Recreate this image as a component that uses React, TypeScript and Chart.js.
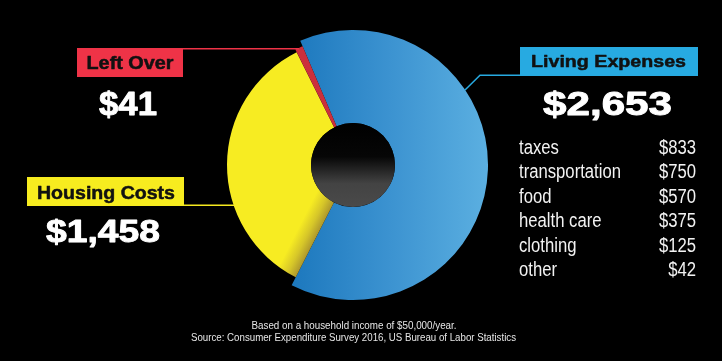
import React, { useEffect, useRef } from 'react';
import { Chart, registerables } from 'chart.js';

Chart.register(...registerables);

// ---- data ----
const sliceLabels = ['Living Expenses', 'Housing Costs', 'Left Over'];
const sliceValues = [2653, 1458, 41];
const livingItems = ['taxes', 'transportation', 'food', 'health care', 'clothing', 'other'];
const livingValues = [833, 750, 570, 375, 125, 42];
const footnotes = [
  'Based on a household income of $50,000/year.',
  'Source: Consumer Expenditure Survey 2016, US Bureau of Labor Statistics',
];
const startRotation = -23;

const money = (v: number) => '$' + v.toLocaleString('en-US');

const SANS = '"Liberation Sans", Arial, Helvetica, sans-serif';

function fitText(
  ctx: CanvasRenderingContext2D,
  text: string,
  x: number,
  y: number,
  font: string,
  width: number,
  align: CanvasTextAlign = 'center',
  stroke = 0
) {
  ctx.font = font;
  const w = ctx.measureText(text).width;
  const s = width / w;
  ctx.save();
  ctx.translate(x, y);
  ctx.scale(s, 1);
  ctx.textAlign = align;
  ctx.textBaseline = 'alphabetic';
  ctx.fillText(text, 0, 0);
  if (stroke > 0) {
    ctx.lineJoin = 'round';
    ctx.strokeStyle = ctx.fillStyle as string;
    ctx.lineWidth = stroke;
    ctx.strokeText(text, 0, 0);
  }
  ctx.restore();
}

const decorPlugin = {
  id: 'decor',
  beforeDraw(chart: any) {
    const ctx = chart.ctx as CanvasRenderingContext2D;
    ctx.save();
    ctx.fillStyle = '#000';
    ctx.fillRect(0, 0, chart.width, chart.height);
    ctx.restore();
  },
  afterDatasetsUpdate(chart: any) {
    const meta = chart.getDatasetMeta(0);
    const base = meta.controller.outerRadius;
    meta.data[0].outerRadius = base + 9;
    meta.data[1].outerRadius = base;
    meta.data[2].outerRadius = base + 3;
  },
  afterDatasetsDraw(chart: any) {
    const ctx = chart.ctx as CanvasRenderingContext2D;
    const a = chart.getDatasetMeta(0).data[0];
    const cx = a.x, cy = a.y, r = a.innerRadius;
    const g = ctx.createLinearGradient(0, cy - r, 0, cy + r);
    g.addColorStop(0, '#000000');
    g.addColorStop(0.4, '#060606');
    g.addColorStop(0.72, '#434343');
    g.addColorStop(1, '#4a4a4a');
    ctx.save();
    ctx.beginPath();
    ctx.arc(cx, cy, r, 0, Math.PI * 2);
    ctx.fillStyle = g;
    ctx.fill();
    ctx.restore();
  },
  afterDraw(chart: any) {
    const ctx = chart.ctx as CanvasRenderingContext2D;
    ctx.save();

    // connector lines
    ctx.lineWidth = 1.5;
    ctx.strokeStyle = '#ef3347';
    ctx.beginPath();
    ctx.moveTo(183, 48.75);
    ctx.lineTo(299, 48.75);
    ctx.stroke();

    ctx.strokeStyle = '#f5e91f';
    ctx.beginPath();
    ctx.moveTo(184, 205.25);
    ctx.lineTo(234, 205.25);
    ctx.stroke();

    ctx.strokeStyle = '#27aae1';
    ctx.beginPath();
    ctx.moveTo(521, 75.25);
    ctx.lineTo(480, 75.25);
    ctx.lineTo(465, 90);
    ctx.stroke();

    // label boxes
    ctx.fillStyle = '#ef3347';
    ctx.fillRect(77, 48, 106, 29);
    ctx.fillStyle = '#f7ec1f';
    ctx.fillRect(27, 177, 157, 29);
    ctx.fillStyle = '#27aae1';
    ctx.fillRect(520, 47, 178, 29);

    // box titles
    ctx.fillStyle = '#111111';
    fitText(ctx, sliceLabels[2], 130, 68.5, `bold 18px ${SANS}`, 87, 'center', 0.5);
    fitText(ctx, sliceLabels[1], 106, 198.5, `bold 18px ${SANS}`, 138, 'center', 0.5);
    fitText(ctx, sliceLabels[0], 608.5, 67, `bold 17px ${SANS}`, 155, 'center', 0.5);

    // big values
    ctx.fillStyle = '#ffffff';
    fitText(ctx, money(sliceValues[2]), 128, 115, `bold 33px ${SANS}`, 58, 'center', 0.9);
    fitText(ctx, money(sliceValues[1]), 103, 242, `bold 32px ${SANS}`, 114, 'center', 0.9);
    fitText(ctx, money(sliceValues[0]), 607.5, 115, `bold 33px ${SANS}`, 129, 'center', 0.9);

    // breakdown list (Arial-narrow look: regular sans condensed horizontally)
    ctx.font = `20px ${SANS}`;
    const ref = ctx.measureText('transportation').width;
    const s = 102 / ref;
    ctx.fillStyle = '#f2f2f2';
    livingItems.forEach((item, i) => {
      const y = 154 + i * 24.4;
      ctx.save();
      ctx.translate(519, y);
      ctx.scale(s, 1);
      ctx.textAlign = 'left';
      ctx.fillText(item, 0, 0);
      ctx.restore();
      ctx.save();
      ctx.translate(696, y);
      ctx.scale(s, 1);
      ctx.textAlign = 'right';
      ctx.fillText(money(livingValues[i]), 0, 0);
      ctx.restore();
    });

    // footnotes
    ctx.fillStyle = '#e6e6e6';
    fitText(ctx, footnotes[0], 354, 328.5, `10px ${SANS}`, 205);
    fitText(ctx, footnotes[1], 353.5, 341, `10px ${SANS}`, 325);

    ctx.restore();
  },
};

export default function App() {
  const ref = useRef<HTMLCanvasElement>(null);

  useEffect(() => {
    document.body.style.margin = '0';
    document.body.style.background = '#000';
    const canvas = ref.current!;
    const ctx = canvas.getContext('2d')!;

    const total = sliceValues.reduce((a, b) => a + b, 0);
    const cx = 353, cy = 165;

    const blue = ctx.createLinearGradient(285, 0, 490, 0);
    blue.addColorStop(0, '#1a76bc');
    blue.addColorStop(0.5, '#3b92d0');
    blue.addColorStop(1, '#5cb0e1');

    // yellow shading near its boundary with the blue slice
    const edgeDeg = startRotation + (360 * sliceValues[0]) / total;
    const th = (edgeDeg * Math.PI) / 180;
    const nx = Math.cos(th), ny = Math.sin(th);
    const yellow = ctx.createLinearGradient(cx, cy, cx + nx * 20, cy + ny * 20);
    yellow.addColorStop(0, '#ad972d');
    yellow.addColorStop(0.45, '#d6c629');
    yellow.addColorStop(1, '#f7ec22');

    const chart = new Chart(canvas, {
      type: 'doughnut',
      data: {
        labels: sliceLabels,
        datasets: [
          {
            data: sliceValues,
            backgroundColor: [blue, yellow, '#cc2f3c'],
            borderWidth: 0,
            hoverOffset: 0,
          },
        ],
      },
      options: {
        responsive: false,
        animation: false,
        rotation: startRotation,
        radius: 126,
        cutout: 42,
        layout: { padding: { left: 227, right: 243, top: 39, bottom: 70 } },
        plugins: {
          legend: { display: false },
          tooltip: { enabled: false },
        },
        events: [],
      },
      plugins: [decorPlugin],
    } as any);

    return () => chart.destroy();
  }, []);

  return (
    <div style={{ width: 722, height: 361, background: '#000' }}>
      <canvas ref={ref} width={722} height={361} style={{ display: 'block' }} />
    </div>
  );
}
